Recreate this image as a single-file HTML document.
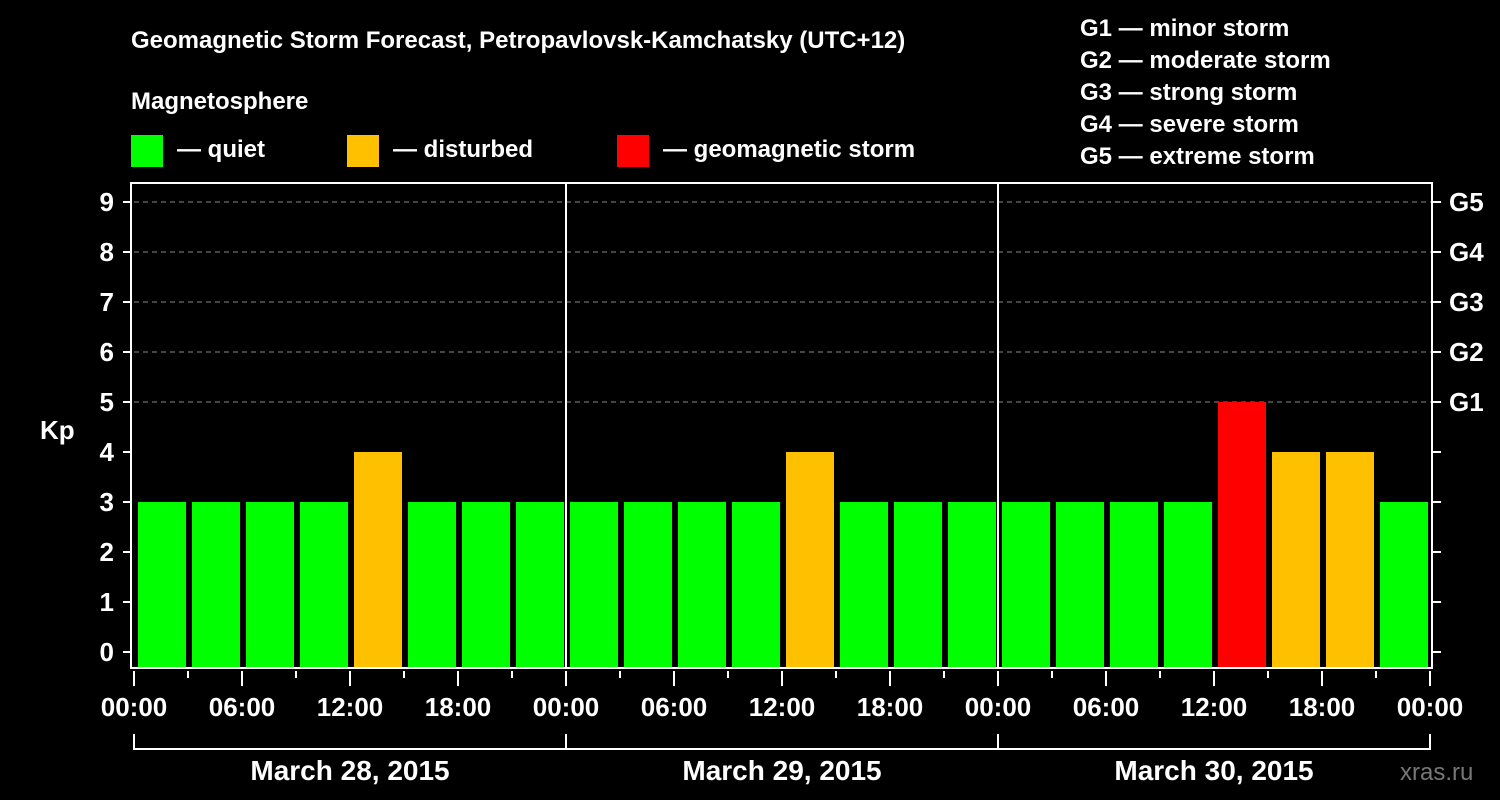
<!DOCTYPE html>
<html><head><meta charset="utf-8"><style>
html,body{margin:0;padding:0;background:#000;}
svg{display:block;font-family:"Liberation Sans",Arial,sans-serif;font-weight:bold;}
</style></head><body>
<svg id="c" width="1500" height="800" viewBox="0 0 1500 800">
<rect width="1500" height="800" fill="#000"/>
<text x="131" y="48" fill="#fff" font-size="24">Geomagnetic Storm Forecast, Petropavlovsk-Kamchatsky (UTC+12)</text>
<text x="131" y="109" fill="#fff" font-size="24">Magnetosphere</text>
<g><rect x="131" y="135" width="32" height="32" fill="#00ff00"/><text x="177" y="157" fill="#fff" font-size="24">— quiet</text></g>
<g><rect x="347" y="135" width="32" height="32" fill="#ffc000"/><text x="393" y="157" fill="#fff" font-size="24">— disturbed</text></g>
<g><rect x="617" y="135" width="32" height="32" fill="#ff0000"/><text x="663" y="157" fill="#fff" font-size="24">— geomagnetic storm</text></g>
<g fill="#fff" font-size="24">
<text x="1080" y="36">G1 — minor storm</text>
<text x="1080" y="68">G2 — moderate storm</text>
<text x="1080" y="100">G3 — strong storm</text>
<text x="1080" y="132">G4 — severe storm</text>
<text x="1080" y="164">G5 — extreme storm</text>
</g>
<text x="40" y="439" fill="#fff" font-size="26">Kp</text>
<text x="1400" y="780" fill="#777" font-size="24" font-weight="normal">xras.ru</text>
<g id="g"></g>
</svg>
<script>
const kpValues=[3,3,3,3,4,3,3,3, 3,3,3,3,4,3,3,3, 3,3,3,3,5,4,4,3];
const dayLabels=["March 28, 2015","March 29, 2015","March 30, 2015"];
const hourLabels=["00:00","06:00","12:00","18:00"];
const yTicks=[0,1,2,3,4,5,6,7,8,9];
const gLabels=["G1","G2","G3","G4","G5"];
const NS="http://www.w3.org/2000/svg";
const g=document.getElementById('g');
const L=134,T=183,B=668,R=1432;
const hourW=18;
const xH=h=>L+h*hourW;
const yV=v=>652-50*v;
function el(t,a,txt){const e=document.createElementNS(NS,t);for(const k in a)e.setAttribute(k,a[k]);if(txt!=null)e.textContent=txt;g.appendChild(e);return e;}
// grid
for(let v=5;v<=9;v++){const e=el('line',{x1:L,x2:R,y1:yV(v),y2:yV(v),stroke:'#888','stroke-width':1,'stroke-dasharray':'5,4'});

}
// bars
kpValues.forEach((v,i)=>{const c=v>=5?'#ff0000':v>=4?'#ffc000':'#00ff00';
const x0=xH(i*3)+4,y=yV(v);
const r=el('rect',{x:x0,y:y,width:hourW*3-6,height:B-y,fill:c});

});
// day separators
for(let d=1;d<dayLabels.length;d++){const e=el('line',{x1:xH(d*24),x2:xH(d*24),y1:T,y2:B,stroke:'#fff','stroke-width':2});

}
// frame
const f=el('rect',{x:131,y:T,width:R-131,height:B-T,fill:'none',stroke:'#fff','stroke-width':2});


// y ticks
yTicks.forEach(v=>{const y=yV(v);
el('line',{x1:123,x2:131,y1:y,y2:y,stroke:'#fff','stroke-width':2});
el('line',{x1:R,x2:R+9,y1:y,y2:y,stroke:'#fff','stroke-width':2});
const t=el('text',{x:114,y:y+9,fill:'#fff','font-size':26,'text-anchor':'end'},v);

});
gLabels.forEach((s,i)=>{const t=el('text',{x:1449,y:yV(5+i)+9,fill:'#fff','font-size':26},s);

});
// x ticks
const totalH=dayLabels.length*24;
for(let h=0;h<=totalH;h+=3){const x=xH(h);const major=h%6===0;
el('line',{x1:x,x2:x,y1:B+3,y2:major?B+18:B+10,stroke:'#fff','stroke-width':2});
if(major){const t=el('text',{x:x,y:B+48,fill:'#fff','font-size':26,'text-anchor':'middle'},hourLabels[(h/6)%4]);

}}
// day brackets
dayLabels.forEach((s,d)=>{const x0=xH(d*24),x1=xH(d*24+24);
el('line',{x1:x0,x2:x0,y1:734,y2:750,stroke:'#fff','stroke-width':2});
el('line',{x1:x0,x2:x1,y1:749,y2:749,stroke:'#fff','stroke-width':2});
const t=el('text',{x:(x0+x1)/2,y:780,fill:'#fff','font-size':28,'text-anchor':'middle'},s);

});
el('line',{x1:xH(totalH),x2:xH(totalH),y1:734,y2:750,stroke:'#fff','stroke-width':2});
</script>
</body></html>
